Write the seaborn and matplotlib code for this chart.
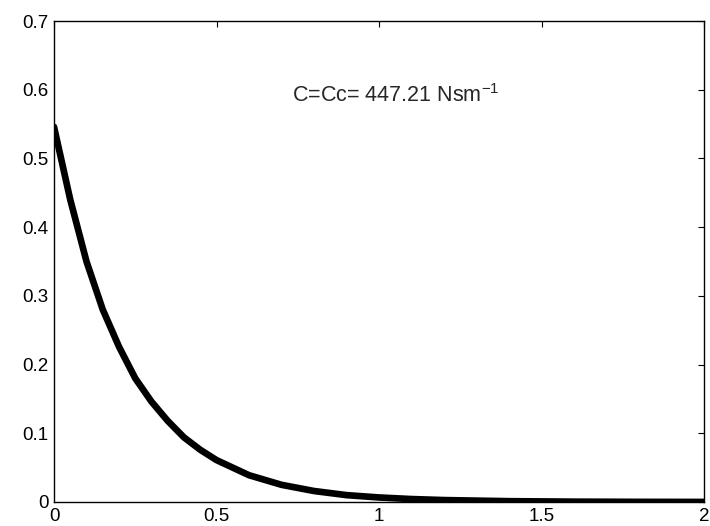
import matplotlib
matplotlib.use("Agg")
import matplotlib.pyplot as plt
import seaborn as sns
import pandas as pd

time_s = [0, 0.05, 0.1, 0.15, 0.2, 0.25, 0.3, 0.35, 0.4, 0.45, 0.5, 0.6, 0.7,
          0.8, 0.9, 1.0, 1.1, 1.2, 1.4, 1.6, 1.8, 2.0]
displacement = [0.546, 0.44, 0.35, 0.28, 0.226, 0.18, 0.146, 0.118, 0.094, 0.076,
                0.061, 0.039, 0.025, 0.016, 0.010, 0.0066, 0.0043, 0.0028, 0.0012,
                0.0005, 0.0002, 0.0001]
x_ticks = [0, 0.5, 1, 1.5, 2]
x_tick_labels = ["0", "0.5", "1", "1.5", "2"]
y_ticks = [0, 0.1, 0.2, 0.3, 0.4, 0.5, 0.6, 0.7]
y_tick_labels = ["0", "0.1", "0.2", "0.3", "0.4", "0.5", "0.6", "0.7"]
annotation = r"C=Cc= 447.21 Nsm$^{\mathregular{-1}}$"

sns.set_style("white")
plt.rcParams["font.family"] = ["Liberation Sans", "DejaVu Sans"]

df = pd.DataFrame({"t": time_s, "x": displacement})

fig = plt.figure(figsize=(7.10, 5.26), dpi=100)
ax = fig.add_axes([54 / 710, 1 - 502 / 526, (704 - 54) / 710, (502 - 21) / 526])
sns.lineplot(data=df, x="t", y="x", ax=ax, color="black", linewidth=4.8)

ax.set_xlim(0, 2)
ax.set_ylim(0, 0.7)
ax.set_xticks(x_ticks)
ax.set_xticklabels(x_tick_labels)
ax.set_yticks(y_ticks)
ax.set_yticklabels(y_tick_labels)
ax.set_xlabel("")
ax.set_ylabel("")
ax.tick_params(direction="in", length=4, width=0.8, top=True, right=True,
               labelsize=13.5, colors="black")
ax.tick_params(axis="x", pad=4)
ax.tick_params(axis="y", pad=4)
for s in ax.spines.values():
    s.set_visible(True)
    s.set_color("black")
    s.set_linewidth(1.0)

ax.text(1.05, 0.592, annotation, fontsize=15.5, va="center", ha="center")

fig.savefig("out.png", dpi=100)
